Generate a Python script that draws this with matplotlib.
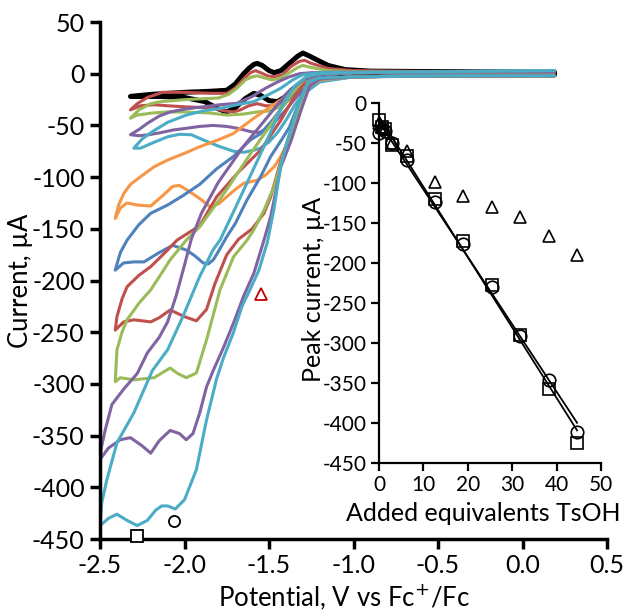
import numpy as np
import matplotlib
matplotlib.use('Agg')
import matplotlib.pyplot as plt

plt.rcParams['font.family'] = ['Lato', 'DejaVu Sans']
plt.rcParams['axes.unicode_minus'] = False

# --- cyclic voltammograms: potential (V vs Fc+/Fc) and current (uA), forward then return sweep
black_v = [0.19, -0.5, -1.0, -1.2, -1.3, -1.36, -1.41, -1.45, -1.50, -1.55, -1.59, -1.64, -1.70, -1.75, -1.80, -1.88, -2.0, -2.15, -2.32,
           -2.2, -2.0, -1.85, -1.75, -1.70, -1.65, -1.62, -1.59, -1.57, -1.54, -1.50, -1.47, -1.43, -1.38, -1.33, -1.30, -1.26, -1.20, -1.15, -1.05, -0.9, -0.5, 0.19]
black_i = [-1, -1.5, -2, -4, -8, -15, -23, -27, -26, -21, -19, -24, -33, -37, -34, -27, -23, -22, -22,
           -20, -18, -17, -16, -10, 0, 5, 9, 10, 8, 3, 1, 3, 10, 17, 20, 17, 12, 8, 4, 2.5, 2, 1.5]

red1_v = [0.19, -0.5, -1.0, -1.2, -1.3, -1.36, -1.41, -1.46, -1.52, -1.57, -1.62, -1.67, -1.71, -1.76, -1.85, -2.0, -2.10, -2.18, -2.26, -2.32,
          -2.28, -2.22, -2.13, -2.0, -1.85, -1.75, -1.70, -1.65, -1.61, -1.58, -1.55, -1.51, -1.47, -1.42, -1.37, -1.32, -1.29, -1.25, -1.15, -1.0, -0.5, 0.19]
red1_i = [-1.5, -2, -2.5, -5, -10, -18, -27, -31, -31, -29, -31, -35, -37, -36, -33, -32, -31, -30, -31, -35,
          -29, -23, -18, -18, -19, -19, -14, -5, 1, 3, 1, -2, -3, -1, 7, 12, 13, 10, 5, 3, 2, 1.5]

green1_v = [0.19, -0.5, -1.0, -1.2, -1.3, -1.35, -1.40, -1.45, -1.50, -1.57, -1.65, -1.75, -1.85, -2.0, -2.10, -2.19, -2.28, -2.32,
            -2.27, -2.20, -2.14, -1.99, -1.80, -1.74, -1.69, -1.64, -1.60, -1.57, -1.53, -1.48, -1.43, -1.38, -1.33, -1.30, -1.25, -1.15, -1.0, 0.19]
green1_i = [-1.5, -2, -3, -6, -13, -20, -28, -33, -36, -37, -39, -40, -38, -37, -37, -38, -40, -43,
            -35, -29, -27, -25, -23.5, -20, -14, -6, -3, -2, -4, -6, -4, 1, 6, 8, 6, 3, 2, 2]

purple1_v = [0.19, -0.5, -1.0, -1.2, -1.3, -1.35, -1.40, -1.45, -1.51, -1.56, -1.61, -1.68, -1.75, -1.83, -1.91, -2.0, -2.07, -2.14, -2.21, -2.27, -2.32,
             -2.27, -2.22, -2.15, -2.085, -1.99, -1.89, -1.79, -1.69, -1.60, -1.52, -1.45, -1.38, -1.32, -1.25, -1.1, 0.19]
purple1_i = [-2, -2, -3, -7, -16, -25, -35, -44, -53, -57, -56, -53, -51, -50, -51, -53, -54.5, -57, -59, -60, -59,
             -54, -48, -41, -37, -34, -32, -30, -28.6, -22, -14, -8, -3, 0, 1, 1.5, 2]

aqua1_v = [0.19, -0.5, -1.0, -1.2, -1.3, -1.35, -1.40, -1.45, -1.50, -1.55, -1.59, -1.65, -1.71, -1.80, -1.89, -1.96, -2.03, -2.10, -2.19, -2.26, -2.30,
           -2.25, -2.19, -2.10, -1.99, -1.89, -1.79, -1.69, -1.59, -1.50, -1.43, -1.36, -1.30, -1.20, 0.19]
aqua1_i = [-2, -2, -3, -8, -20, -31, -45, -57, -66, -72, -74, -76, -75, -70, -64, -59, -58.6, -61, -67, -72, -72,
           -63, -56, -47, -40, -36, -33.5, -30, -27, -20, -14, -6, -1, 1, 3]

orange_v = [0.19, -0.5, -1.0, -1.2, -1.27, -1.30, -1.33, -1.36, -1.39, -1.43, -1.47, -1.52, -1.57, -1.65, -1.70, -1.75, -1.80, -1.85, -1.90, -1.97, -2.03, -2.07, -2.13, -2.20, -2.28, -2.34, -2.38, -2.41,
            -2.39, -2.36, -2.32, -2.26, -2.18, -2.10, -2.0, -1.91, -1.80, -1.71, -1.59, -1.50, -1.39, -1.33, -1.27, -1.20, -1.0, 0.19]
orange_i = [-2, -2, -3, -6, -13, -25, -45, -56, -67, -80, -90, -98, -103, -106, -112, -119, -126, -128.6, -122, -114, -108, -109, -118, -128, -127, -125, -130, -140,
            -127, -116, -107, -99.6, -90, -83.5, -77, -70.6, -64, -57.7, -43, -33, -20.6, -12, -5, -1, 1, 2]

blue_v = [0.19, -0.5, -1.0, -1.2, -1.26, -1.30, -1.34, -1.38, -1.43, -1.49, -1.55, -1.63, -1.70, -1.75, -1.80, -1.83, -1.86, -1.89, -1.94, -1.99, -2.07, -2.15, -2.24, -2.30, -2.36, -2.41,
          -2.38, -2.34, -2.27, -2.20, -2.10, -2.01, -1.91, -1.81, -1.71, -1.61, -1.55, -1.48, -1.41, -1.35, -1.28, -1.2, -1.0, 0.19]
blue_i = [-2, -2, -3, -5, -10, -20, -35, -52, -65, -80, -99.6, -122, -145, -157.6, -172, -180, -184, -183, -176, -170.5, -166, -173, -182, -182, -183, -190,
          -173, -161, -146, -135, -127, -118, -107, -92, -80, -64, -58, -45, -30, -17, -5, -1, 1, 2]

red2_v = [0.19, -0.5, -1.0, -1.2, -1.28, -1.33, -1.38, -1.43, -1.49, -1.53, -1.60, -1.68, -1.75, -1.82, -1.87, -1.93, -2.0, -2.085, -2.15, -2.20, -2.30, -2.36, -2.41,
          -2.40, -2.37, -2.34, -2.27, -2.20, -2.10, -2.045, -1.91, -1.81, -1.68, -1.55, -1.43, -1.35, -1.28, -1.2, -1.0, 0.19]
red2_i = [-2, -2, -3, -5, -12, -35, -60, -84, -119, -135, -150, -160, -175, -203, -228, -239, -235, -228.5, -236, -240, -238, -240, -248,
          -235, -218, -206, -195, -186.6, -170.5, -161, -147, -119, -95, -74, -45, -22, -7, -1, 1, 2]

green2_v = [0.19, -0.5, -1.0, -1.2, -1.27, -1.32, -1.38, -1.43, -1.47, -1.53, -1.59, -1.63, -1.71, -1.79, -1.87, -1.93, -1.99, -2.04, -2.085, -2.13, -2.18, -2.30, -2.38, -2.41,
            -2.40, -2.37, -2.34, -2.27, -2.20, -2.14, -2.085, -1.99, -1.91, -1.75, -1.60, -1.47, -1.38, -1.30, -1.2, -1.0, 0.19]
green2_i = [-2, -2, -3, -5, -12, -35, -62, -86.5, -109, -132, -151, -161, -177, -209, -257.5, -289.5, -294, -290, -284.6, -289, -294, -296, -294, -298,
            -267, -250, -238, -222, -209, -194, -180, -161, -148, -112, -75, -45, -22, -7, -1, 1, 2]

purple2_v = [0.19, -0.5, -1.0, -1.2, -1.26, -1.31, -1.37, -1.43, -1.49, -1.53, -1.59, -1.65, -1.71, -1.77, -1.83, -1.87, -1.91, -1.95, -1.99, -2.03, -2.085, -2.15, -2.20, -2.25, -2.32, -2.38, -2.45, -2.5,
             -2.49, -2.47, -2.43, -2.36, -2.28, -2.22, -2.15, -2.10, -2.05, -2.00, -1.96, -1.90, -1.80, -1.65, -1.50, -1.40, -1.30, -1.2, -1.0, 0.19]
purple2_i = [-2, -2, -3, -5, -12, -35, -65, -90, -138, -161, -193, -215, -241, -265, -287, -303, -328, -348, -354, -348, -345, -355, -367, -360, -352, -354, -362, -373,
             -360, -345, -320, -305, -290, -270, -255, -240, -215, -185, -160, -135, -105, -70, -40, -20, -6, -1, 1, 2]

aqua2_v = [0.19, -0.5, -1.0, -1.2, -1.27, -1.33, -1.39, -1.43, -1.47, -1.51, -1.56, -1.61, -1.66, -1.71, -1.77, -1.81, -1.87, -1.93, -2.0, -2.055, -2.10, -2.135, -2.17, -2.22, -2.28, -2.34, -2.40, -2.45, -2.5,
           -2.49, -2.46, -2.40, -2.30, -2.19, -2.10, -2.01, -1.91, -1.83, -1.79, -1.70, -1.60, -1.50, -1.42, -1.35, -1.28, -1.2, -1.0, 0.19]
aqua2_i = [-2, -2, -3, -4, -8, -32, -64, -88, -130, -163, -190, -208, -225, -250, -275, -295, -335, -383, -412, -421, -418, -418, -422, -432, -437, -432, -426, -430, -437,
           -415, -393, -357, -328, -287, -267, -235, -196, -170, -161, -130, -95, -60, -30, -12, -3, 0, 1, 3]

curve_colors = ['black', '#C0504D', '#9BBB59', '#8064A2', '#4BACC6', '#F79646',
                '#4F81BD', '#C0504D', '#9BBB59', '#8064A2', '#4BACC6']

# --- peak positions marked on the voltammograms
mark_tri = (-1.545, -213)
mark_circ = (-2.06, -433)
mark_sq = (-2.28, -447)

# --- inset: peak current vs added equivalents of TsOH
equiv = [0, 0.6, 1.3, 3, 6.4, 12.7, 19, 25.4, 31.8, 38.2, 44.6]
peak_tri = [-25, -30, -33, -50, -60, -99, -116, -130, -143, -166, -190]
peak_sq = [-21, -30, -33, -53, -66, -120, -172, -228, -290, -357, -425]
peak_circ = [-38, -33, -35, -50, -71, -124, -176, -230, -291, -346, -411]

fig = plt.figure(figsize=(6.24, 6.13), dpi=100)
ax = fig.add_axes([0.1603, 0.1207, 0.8125, 0.8434])

curves = [(black_v, black_i), (red1_v, red1_i), (green1_v, green1_i), (purple1_v, purple1_i),
          (aqua1_v, aqua1_i), (orange_v, orange_i), (blue_v, blue_i), (red2_v, red2_i),
          (green2_v, green2_i), (purple2_v, purple2_i), (aqua2_v, aqua2_i)]
for (v, i), c in zip(curves, curve_colors):
    lw = 3.6 if c == 'black' else 2.2
    ax.plot(v, i, color=c, lw=lw, solid_joinstyle='round', solid_capstyle='round')

ax.plot(*mark_tri, marker='^', ms=8, mfc='none', mec='#C00000', mew=1.3, ls='none')
ax.plot(*mark_circ, marker='o', ms=8, mfc='none', mec='black', mew=1.3, ls='none', clip_on=False)
ax.plot(*mark_sq, marker='s', ms=8, mfc='white', mec='black', mew=1.3, ls='none', clip_on=False, zorder=5)

ax.set_xlim(-2.5, 0.5)
ax.set_ylim(-450, 50)
ax.set_xticks(np.arange(-2.5, 0.51, 0.5))
ax.set_xticklabels(['%.1f' % t for t in np.arange(-2.5, 0.51, 0.5)])
ax.set_yticks(np.arange(-450, 51, 50))
for s in ['top', 'right']:
    ax.spines[s].set_visible(False)
for s in ['left', 'bottom']:
    ax.spines[s].set_linewidth(2.5)
ax.tick_params(direction='out', length=7, width=2.5, labelsize=18, pad=4)
ax.set_xlabel('Potential, V vs Fc$^{+}$/Fc', fontsize=18.5)
ax.set_ylabel('Current, µA', fontsize=18.5)
ax.xaxis.set_label_coords(0.481, -0.13)
ax.xaxis.label.set_va('baseline')
ax.yaxis.set_label_coords(-0.156, 0.5)
ax.yaxis.label.set_va('center')

# inset
axi = fig.add_axes([0.6074, 0.2447, 0.3558, 0.5873])
axi.patch.set_alpha(0)
for s in ['top', 'right']:
    axi.spines[s].set_visible(False)
for s in ['left', 'bottom']:
    axi.spines[s].set_linewidth(1.6)

fit_x = np.array([equiv[0], equiv[-1]])
for ys in (peak_sq, peak_circ):
    k, b = np.polyfit(equiv, ys, 1)
    axi.plot(fit_x, k * fit_x + b, color='black', lw=1.3)

axi.plot(equiv, peak_tri, marker='^', ms=9, mfc='none', mec='black', mew=1.2, ls='none', clip_on=False)
axi.plot(equiv, peak_sq, marker='s', ms=8.5, mfc='none', mec='black', mew=1.2, ls='none', clip_on=False)
axi.plot(equiv, peak_circ, marker='o', ms=9, mfc='none', mec='black', mew=1.2, ls='none', clip_on=False)

axi.set_xlim(0, 50)
axi.set_ylim(-450, 0)
axi.set_xticks(np.arange(0, 51, 10))
axi.set_yticks(np.arange(-450, 1, 50))
axi.tick_params(direction='out', length=6, width=1.6, labelsize=15, pad=3)
axi.set_xlabel('Added equivalents TsOH', fontsize=18)
axi.set_ylabel('Peak current, µA', fontsize=18)
axi.xaxis.set_label_coords(0.47, -0.161)
axi.xaxis.label.set_va('baseline')
axi.yaxis.set_label_coords(-0.243, 0.483)

fig.savefig('out.png', dpi=100)
